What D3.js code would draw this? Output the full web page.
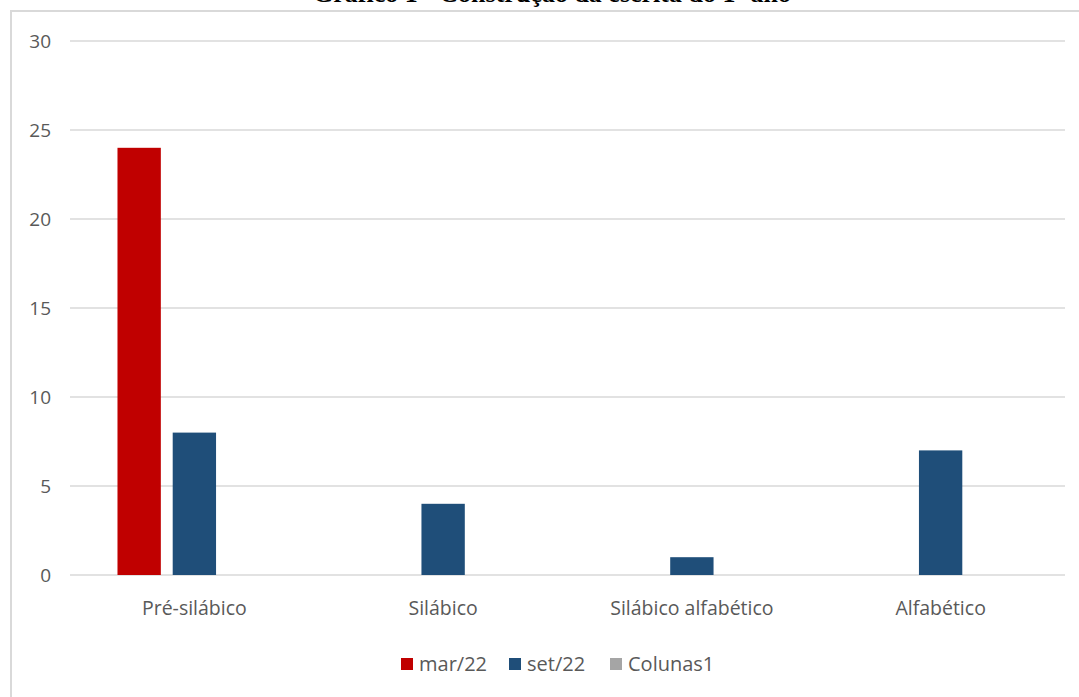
<!DOCTYPE html>
<html><head><meta charset="utf-8">
<script src="https://cdn.jsdelivr.net/npm/d3@7"></script>
<style>body{margin:0;background:#fff;overflow:hidden}svg{display:block}</style>
</head><body>
<svg id="c" width="1079" height="697"></svg>
<script>
const categories = ["Pré-silábico", "Silábico", "Silábico alfabético", "Alfabético"];
const seriesNames = ["mar/22", "set/22", "Colunas1"];
const marValues = [24, 0, 0, 0];
const setValues = [8, 4, 1, 7];
const colunas1Values = [null, null, null, null];
const yTicks = [0, 5, 10, 15, 20, 25, 30];
const colors = ["#c00000", "#1f4e79", "#a5a5a5"];
const title = "Gráfico 1 - Construção da escrita do 1º ano";

const seriesValues = [marValues, setValues, colunas1Values];
const svg = d3.select("#c");
const font = "'Open Sans', 'Noto Sans', sans-serif";

// title (partially clipped at top, as in the reference)
svg.append("text").attr("x", 552).attr("y", 2).attr("text-anchor", "middle")
  .attr("font-family", "'Liberation Serif', serif").attr("font-weight", "bold")
  .attr("font-size", 26).attr("fill", "#000").text(title);

// chart border
svg.append("rect").attr("x", 11).attr("y", 11).attr("width", 1090).attr("height", 700)
  .attr("fill", "none").attr("stroke", "#d9d9d9").attr("stroke-width", 2);

const x0 = d3.scaleBand().domain(categories).range([70, 1065]);
const y = d3.scaleLinear().domain([0, 30]).range([575, 41]);
const x1 = d3.scaleBand().domain(seriesNames).range([0, x0.bandwidth()]).paddingInner(0.215).paddingOuter(0.86);

// gridlines
svg.append("g").selectAll("line").data(yTicks).join("line")
  .attr("x1", 70).attr("x2", 1065).attr("y1", d => y(d)).attr("y2", d => y(d))
  .attr("stroke", "#d9d9d9").attr("stroke-width", 1.3);

// y axis labels
const yAxis = d3.axisLeft(y).tickValues(yTicks).tickSize(0).tickPadding(0);
const gy = svg.append("g").attr("transform", "translate(51,0)").call(yAxis);
gy.select(".domain").remove();
gy.selectAll("text").attr("font-family", font).attr("font-size", 19).attr("fill", "#595959");

// x axis labels
const xAxis = d3.axisBottom(x0).tickSize(0).tickPadding(0);
const gx = svg.append("g").attr("transform", "translate(0,615)").call(xAxis);
gx.select(".domain").remove();
gx.selectAll("text").attr("font-family", font).attr("font-size", 19.5).attr("fill", "#595959")
  .attr("dy", 0).attr("y", 0);

// bars
const groups = svg.append("g").selectAll("g").data(categories).join("g")
  .attr("transform", d => `translate(${x0(d)},0)`);
groups.selectAll("rect").data((d, i) => seriesNames.map((s, j) => ({s, v: seriesValues[j][i], j})))
  .join("rect")
  .filter(d => d.v != null && d.v > 0)
  .attr("x", d => x1(d.s)).attr("width", x1.bandwidth())
  .attr("y", d => y(d.v)).attr("height", d => y(0) - y(d.v))
  .attr("fill", d => colors[d.j]);

// legend
const legendX = [401, 509, 610];
const lg = svg.append("g").selectAll("g").data(seriesNames).join("g")
  .attr("transform", (d, i) => `translate(${legendX[i]},658)`);
lg.append("rect").attr("width", 12).attr("height", 12).attr("fill", (d, i) => colors[i]);
lg.append("text").attr("x", 18).attr("y", 13).attr("font-family", font).attr("font-size", 20)
  .attr("fill", "#595959").text(d => d);
</script>
</body></html>
